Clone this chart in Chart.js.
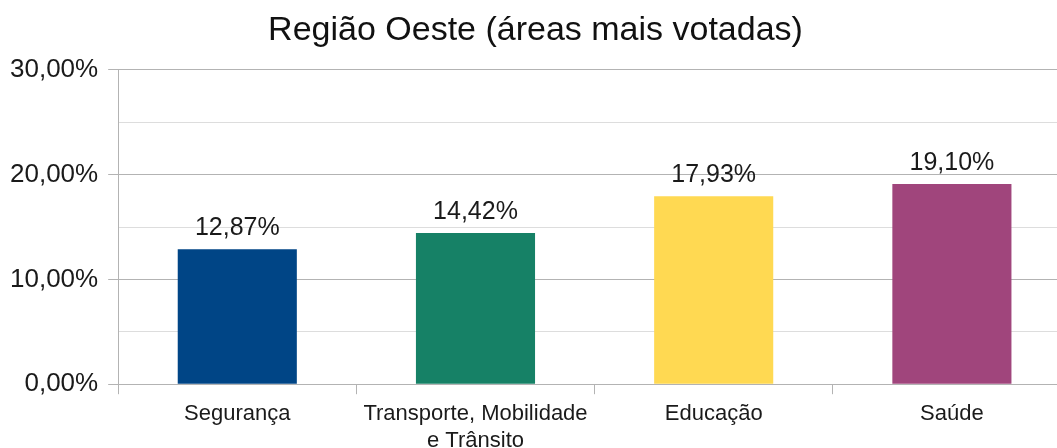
<!DOCTYPE html>
<html>
<head>
<meta charset="utf-8">
<script src="https://cdn.jsdelivr.net/npm/chart.js@4"></script>
<style>
  html, body { margin: 0; padding: 0; background: #fff; overflow: hidden; }
  #wrap { width: 1075px; height: 461px; position: relative; }
</style>
</head>
<body>
<div id="wrap"><canvas id="chart"></canvas></div>
<script>
// Região Oeste - áreas mais votadas
const categorias = ['Segurança', ['Transporte, Mobilidade', 'e Trânsito'], 'Educação', 'Saúde'];
const percentuais = [12.87, 14.42, 17.93, 19.10];
const cores = ['#004586', '#168166', '#ffd952', '#a0457c'];
const yMin = 0, yMax = 30, yPasso = 5;

const fmtPct = (v) => v.toFixed(2).replace('.', ',') + '%';
const isMajor = (v) => Math.round(v) % 10 === 0;

Chart.defaults.font.family = "'Liberation Sans', Arial, sans-serif";
Chart.defaults.color = '#1a1a1a';

// rotulos em cima das barras
const rotulos = {
  id: 'rotulos',
  afterDatasetsDraw(chart) {
    const { ctx } = chart;
    const meta = chart.getDatasetMeta(0);
    ctx.save();
    ctx.font = "25px 'Liberation Sans', Arial, sans-serif";
    ctx.fillStyle = '#1a1a1a';
    ctx.textAlign = 'center';
    ctx.textBaseline = 'alphabetic';
    meta.data.forEach((bar, i) => {
      ctx.fillText(fmtPct(percentuais[i]), bar.x, bar.y - 14);
    });
    ctx.restore();
  },
};

new Chart(document.getElementById('chart'), {
  type: 'bar',
  data: {
    labels: categorias,
    datasets: [{
      data: percentuais,
      backgroundColor: cores,
      borderWidth: 0,
      barPercentage: 0.5,
      categoryPercentage: 1,
    }],
  },
  options: {
    responsive: true,
    maintainAspectRatio: false,
    animation: false,
    layout: { padding: { left: 0, right: 4, top: 0, bottom: 0 } },
    plugins: {
      legend: { display: false },
      tooltip: { enabled: false },
      title: {
        display: true,
        text: 'Região Oeste (áreas mais votadas)',
        color: '#111',
        font: { size: 34, weight: 'normal' },
        padding: { top: 10, bottom: 19 },
      },
    },
    scales: {
      x: {
        grid: { drawOnChartArea: false, drawTicks: true, tickLength: 10, color: '#b3b3b3' },
        border: { display: true, color: '#b3b3b3' },
        ticks: { font: { size: 22 }, padding: 7, maxRotation: 0, autoSkip: false },
      },
      y: {
        min: yMin,
        max: yMax,
        grid: {
          color: (c) => (isMajor(c.tick.value) ? '#b3b3b3' : '#dddddd'),
          tickColor: (c) => (isMajor(c.tick.value) ? '#b3b3b3' : 'rgba(0,0,0,0)'),
          tickLength: 10,
          lineWidth: 1,
        },
        border: { display: true, color: '#b3b3b3' },
        ticks: {
          stepSize: yPasso,
          padding: 10,
          font: { size: 26 },
          callback: (v) => (isMajor(v) ? fmtPct(v) : ''),
        },
      },
    },
  },
  plugins: [rotulos],
});
</script>
</body>
</html>
